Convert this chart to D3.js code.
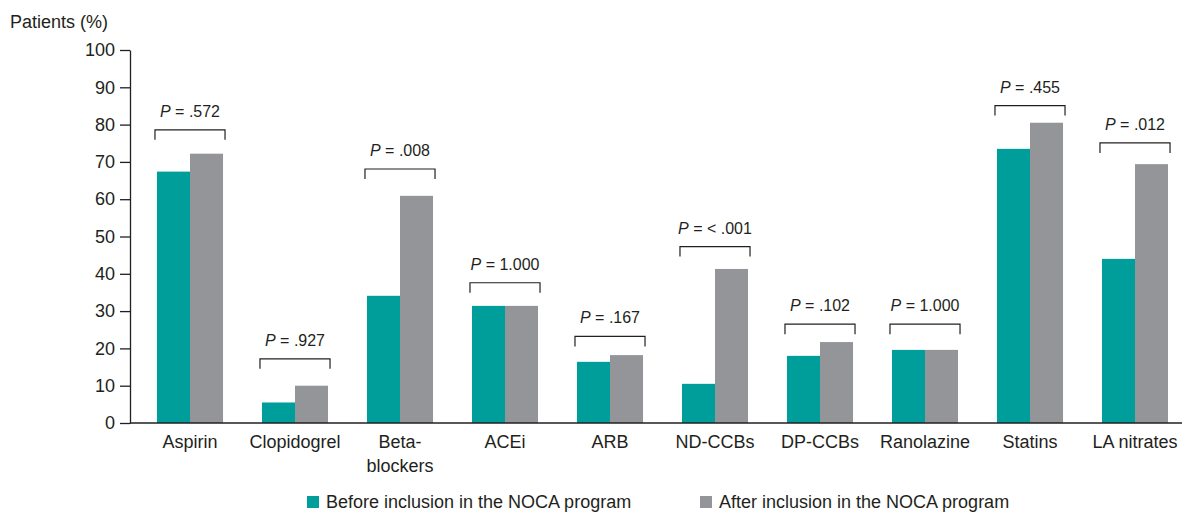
<!DOCTYPE html>
<html>
<head>
<meta charset="utf-8">
<script src="https://cdn.jsdelivr.net/npm/d3@7"></script>
<style>
  html, body { margin: 0; padding: 0; background: #fff; }
  svg { display: block; font-family: "Liberation Sans", Arial, Helvetica, sans-serif; }
</style>
</head>
<body>
<svg id="chart" width="1182" height="513"></svg>
<script>
// Medication use per drug class (% of patients)
const categories = ["Aspirin", "Clopidogrel", "Beta-\nblockers", "ACEi", "ARB", "ND-CCBs", "DP-CCBs", "Ranolazine", "Statins", "LA nitrates"];
const beforeValues = [67.4, 5.5, 34.1, 31.4, 16.4, 10.5, 18.0, 19.6, 73.5, 44.0];
const afterValues  = [72.2, 10.0, 60.9, 31.4, 18.2, 41.3, 21.7, 19.6, 80.5, 69.4];
const pLabels = [".572", ".927", ".008", "1.000", ".167", "< .001", ".102", "1.000", ".455", ".012"];
// level (in %) at which each comparison bracket sits
const bracketLevels = [78.6, 17.2, 68.1, 37.6, 23.2, 47.3, 26.5, 26.5, 85.1, 75.1];
const yTicks = [0, 10, 20, 30, 40, 50, 60, 70, 80, 90, 100];
const seriesNames = ["Before inclusion in the NOCA program", "After inclusion in the NOCA program"];
const seriesColors = ["#009e9a", "#939598"];
const textColor = "#231f20";

const svg = d3.select("#chart");
const axisX = 130, baseY = 423;

const x = d3.scaleBand()
  .domain(categories)
  .range([137.5, 1187.5])
  .paddingInner(0.371)
  .paddingOuter(0.1855);
const xSub = d3.scaleBand().domain([0, 1]).range([0, x.bandwidth()]);
const y = d3.scaleLinear().domain([0, 100]).range([baseY, 50]);

// Y axis
const yAxis = svg.append("g")
  .attr("transform", `translate(${axisX},0)`)
  .call(d3.axisLeft(y).tickValues(yTicks).tickSize(10).tickPadding(5).tickSizeOuter(0));
yAxis.select(".domain").attr("stroke", textColor).attr("stroke-width", 1.3);
yAxis.selectAll(".tick line").attr("stroke", textColor).attr("stroke-width", 1.3);
yAxis.selectAll(".tick text").attr("fill", textColor).attr("font-size", 18)
  .attr("font-family", "Liberation Sans, Arial, sans-serif");

svg.append("text")
  .attr("x", 10).attr("y", 28)
  .attr("fill", textColor).attr("font-size", 18)
  .text("Patients (%)");

// Bars
const groups = svg.append("g").selectAll("g")
  .data(categories)
  .join("g")
  .attr("transform", d => `translate(${x(d)},0)`);

groups.each(function(cat, i) {
  const vals = [beforeValues[i], afterValues[i]];
  d3.select(this).selectAll("rect")
    .data(vals)
    .join("rect")
    .attr("x", (v, j) => xSub(j))
    .attr("width", xSub.bandwidth())
    .attr("y", v => y(v))
    .attr("height", v => baseY - y(v))
    .attr("fill", (v, j) => seriesColors[j]);
});

// X axis baseline
svg.append("line")
  .attr("x1", axisX).attr("x2", 1182)
  .attr("y1", baseY).attr("y2", baseY)
  .attr("stroke", textColor).attr("stroke-width", 1.3);

// Category labels (multi-line where needed)
svg.append("g").selectAll("text")
  .data(categories)
  .join("text")
  .attr("x", d => x(d) + x.bandwidth() / 2)
  .attr("y", 448)
  .attr("text-anchor", "middle")
  .attr("fill", textColor)
  .attr("font-size", 18)
  .each(function(d) {
    const lines = d.split("\n");
    const t = d3.select(this);
    lines.forEach((ln, k) => {
      t.append("tspan")
        .attr("x", x(d) + x.bandwidth() / 2)
        .attr("dy", k === 0 ? 0 : 24)
        .text(ln);
    });
  });

// Significance brackets and P values
const brackets = svg.append("g");
categories.forEach((cat, i) => {
  const x0 = x(cat) - 2, x1 = x(cat) + x.bandwidth() + 2;
  const by = y(bracketLevels[i]);
  brackets.append("path")
    .attr("d", `M${x0},${by + 10}V${by}H${x1}V${by + 10}`)
    .attr("fill", "none")
    .attr("stroke", textColor)
    .attr("stroke-width", 1.2);
  const label = brackets.append("text")
    .attr("x", x(cat) + x.bandwidth() / 2)
    .attr("y", by - 13)
    .attr("text-anchor", "middle")
    .attr("fill", textColor)
    .attr("font-size", 16);
  label.append("tspan").attr("font-style", "italic").text("P");
  label.append("tspan").text(" = " + pLabels[i]);
});

// Legend
const legendX = [307, 700];
const legend = svg.append("g");
seriesNames.forEach((name, j) => {
  legend.append("rect")
    .attr("x", legendX[j]).attr("y", 496)
    .attr("width", 12).attr("height", 12)
    .attr("fill", seriesColors[j]);
  legend.append("text")
    .attr("x", legendX[j] + 19).attr("y", 508)
    .attr("fill", textColor).attr("font-size", 18)
    .text(name);
});
</script>
</body>
</html>
